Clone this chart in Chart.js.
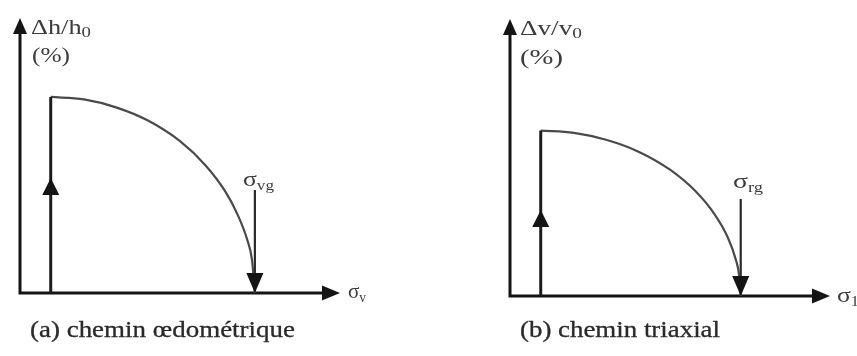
<!DOCTYPE html>
<html>
<head>
<meta charset="utf-8">
<script src="https://cdn.jsdelivr.net/npm/chart.js@4/dist/chart.umd.min.js"></script>
<style>
  html, body { margin: 0; padding: 0; background: #fff; width: 857px; height: 356px; overflow: hidden; }
  .panel { position: absolute; top: 0; height: 356px; }
  .fontwarm { position: absolute; left: -999px; top: 0; font-family: "Liberation Serif"; font-size: 20px; }
</style>
</head>
<body>
<span class="fontwarm">Δh/h σ œ é</span>
<div class="panel" style="left:0;width:428px"><canvas id="chartA"></canvas></div>
<div class="panel" style="left:428px;width:429px"><canvas id="chartB"></canvas></div>
<script>
// Axes run from 0 to 100 (arrow tips) in both panels.

// (a) oedometric path: vertical loading, then unloading curve down to sigma_vg
const riseAx  = [9.6, 9.6];
const riseAy  = [0, 71.3];
const curveAx = [9.6, 20, 30, 40, 50, 58, 64, 68, 71, 72.5, 73.4];
const curveAy = [71.3, 70.4, 67.5, 62.7, 55.2, 46.4, 37.2, 28.5, 19.4, 12, 0];
const dropAx  = [73.4, 73.4];
const dropAy  = [37.5, 0];

// (b) triaxial path: vertical loading, then curve down to sigma_rg
const riseBx  = [9.6, 9.6];
const riseBy  = [0, 59.7];
const curveBx = [9.6, 20, 30, 40, 50, 58, 64, 68, 70.5, 71.6, 72.1];
const curveBy = [59.7, 58.9, 56.4, 52.2, 45.6, 37.8, 29.4, 21.3, 13.4, 7.5, 0];
const dropBx  = [72.1, 72.1];
const dropBy  = [35, 0];

// Texts
const yLabelA   = [['\u0394h/h', 21, 0], ['0', 15, 3]];
const yLabelB   = [['\u0394v/v', 21, 0], ['0', 15, 3]];
const unitLabel = [['(%)', 21, 0]];
const xLabelA   = [['\u03c3', 22, 0], ['v', 14, 4]];
const xLabelB   = [['\u03c3', 22, 0], ['1', 14, 4]];
const markA     = [['\u03c3', 21, 0], ['vg', 14, 4]];
const markB     = [['\u03c3', 21, 0], ['rg', 14, 4]];
const captionA  = [['(a) chemin \u0153dom\u00e9trique', 23, 0]];
const captionB  = [['(b) chemin triaxial', 23, 0]];

const FONT_FAMILY = '"Liberation Serif", "Times New Roman", serif';

const pts = (xs, ys) => xs.map((x, i) => ({ x, y: ys[i] }));

function arrowHead(ctx, tx, ty, dx, dy, len, wid, color) {
  const bx = tx - dx * len, by = ty - dy * len;
  const nx = -dy, ny = dx;
  ctx.beginPath();
  ctx.moveTo(tx, ty);
  ctx.lineTo(bx + nx * wid / 2, by + ny * wid / 2);
  ctx.lineTo(bx - nx * wid / 2, by - ny * wid / 2);
  ctx.closePath();
  ctx.fillStyle = color;
  ctx.fill();
}

// Text made of runs [text, size, baselineShift], stretched to a given width
function drawRich(ctx, t) {
  ctx.save();
  const ws = [];
  let total = 0;
  t.parts.forEach(p => {
    ctx.font = p[1] + 'px ' + FONT_FAMILY;
    const w = ctx.measureText(p[0]).width;
    ws.push(w); total += w;
  });
  ctx.translate(t.x, t.y);
  ctx.scale(t.w / total, 1);
  ctx.fillStyle = t.color;
  ctx.strokeStyle = t.color;
  ctx.lineWidth = t.weight || 0;
  ctx.textBaseline = 'alphabetic';
  let cx = 0;
  t.parts.forEach((p, i) => {
    ctx.font = p[1] + 'px ' + FONT_FAMILY;
    ctx.fillText(p[0], cx, p[2]);
    if (t.weight) ctx.strokeText(p[0], cx, p[2]);
    cx += ws[i];
  });
  ctx.restore();
}

const diagramPlugin = {
  id: 'diagram',
  beforeDatasetsDraw(chart, args, o) {
    const { ctx, scales: { x, y } } = chart;
    const x0 = x.getPixelForValue(0), y0 = y.getPixelForValue(0);
    const xe = x.getPixelForValue(100), ye = y.getPixelForValue(100);
    ctx.save();
    ctx.strokeStyle = o.axisColor;
    ctx.lineWidth = 3;
    ctx.beginPath();
    ctx.moveTo(x0, y0 + 1.5); ctx.lineTo(x0, ye + 12);
    ctx.moveTo(x0 - 1.5, y0); ctx.lineTo(xe - 12, y0);
    ctx.stroke();
    arrowHead(ctx, x0, ye, 0, -1, 16, 14, o.axisColor);
    arrowHead(ctx, xe, y0, 1, 0, 18, 15, o.axisColor);
    ctx.restore();
  },
  afterDatasetsDraw(chart, args, o) {
    const { ctx, scales: { x, y } } = chart;
    const rise = chart.data.datasets[0].data;
    const drop = chart.data.datasets[2].data;
    ctx.save();
    // arrow on the loading branch
    const rx = x.getPixelForValue(rise[0].x);
    const ry = y.getPixelForValue(rise[0].y + (rise[1].y - rise[0].y) * o.riseArrowAt);
    arrowHead(ctx, rx, ry, 0, -1, 17, 17, o.axisColor);
    // arrow at the end of the drop line
    const last = drop[drop.length - 1];
    arrowHead(ctx, x.getPixelForValue(last.x), y.getPixelForValue(last.y), 0, 1, 20, 17, o.axisColor);
    // texts
    o.texts.forEach(t => drawRich(ctx, t));
    ctx.restore();
  }
};

function makeChart(id, rise, curve, drop, padding, diagram) {
  return new Chart(document.getElementById(id), {
    type: 'scatter',
    data: {
      datasets: [
        { data: rise, showLine: true, borderColor: '#1c1c1c', borderWidth: 3, pointRadius: 0, tension: 0 },
        { data: curve, showLine: true, borderColor: '#4a4a4a', borderWidth: 2.2, pointRadius: 0, cubicInterpolationMode: 'monotone' },
        { data: drop, showLine: true, borderColor: '#2a2a2a', borderWidth: 2.2, pointRadius: 0, tension: 0 }
      ]
    },
    options: {
      responsive: true,
      maintainAspectRatio: false,
      animation: false,
      layout: { padding },
      scales: {
        x: { type: 'linear', min: 0, max: 100, display: false },
        y: { type: 'linear', min: 0, max: 100, display: false }
      },
      plugins: {
        legend: { display: false },
        tooltip: { enabled: false },
        diagram
      }
    },
    plugins: [diagramPlugin]
  });
}

const LABEL = '#3c3c3c';
const CAPTION = '#2a2a2a';

function build() {
  makeChart('chartA',
    pts(riseAx, riseAy), pts(curveAx, curveAy), pts(dropAx, dropAy),
    { left: 20, top: 18, right: 88, bottom: 63 },
    {
      axisColor: '#141414', riseArrowAt: 0.586,
      texts: [
        { parts: yLabelA, x: 31, y: 34, w: 60, color: LABEL },
        { parts: unitLabel, x: 32, y: 62, w: 38, color: LABEL },
        { parts: markA, x: 243, y: 186, w: 31, color: LABEL },
        { parts: xLabelA, x: 348, y: 298, w: 18, color: LABEL },
        { parts: captionA, x: 30, y: 337, w: 265, color: CAPTION, weight: 0.3 }
      ]
    });

  makeChart('chartB',
    pts(riseBx, riseBy), pts(curveBx, curveBy), pts(dropBx, dropBy),
    { left: 82, top: 19, right: 27, bottom: 60 },
    {
      axisColor: '#141414', riseArrowAt: 0.52,
      texts: [
        { parts: yLabelB, x: 92, y: 35, w: 62, color: LABEL },
        { parts: unitLabel, x: 92, y: 64, w: 43, color: LABEL },
        { parts: markB, x: 305, y: 188, w: 30, color: LABEL },
        { parts: xLabelB, x: 409, y: 302, w: 22, color: LABEL },
        { parts: captionB, x: 92, y: 337, w: 200, color: CAPTION, weight: 0.3 }
      ]
    });
}

if (document.fonts && document.fonts.load) {
  document.fonts.load('20px "Liberation Serif"', '\u0394h\u03c3\u0153').then(build, build);
} else {
  build();
}
</script>
</body>
</html>
